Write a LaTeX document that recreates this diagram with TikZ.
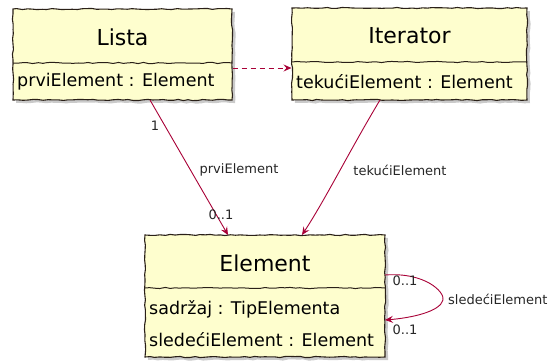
\documentclass[tikz,border=0pt]{standalone}
\usepackage{fontspec}
\setmainfont{DejaVu Sans}
\usetikzlibrary{arrows.meta,decorations.pathmorphing,shadows,calc}
\definecolor{clsfill}{HTML}{FEFECE}
\definecolor{clsline}{HTML}{2A2018}
\definecolor{assoc}{HTML}{A80036}
\tikzset{
  sketch/.style={decorate,decoration={random steps,segment length=5pt,amplitude=0.6pt}},
  classbox/.style={draw=clsline,line width=1.1pt,fill=clsfill,sketch,
    drop shadow={shadow xshift=3pt,shadow yshift=-3pt,opacity=0.35,fill=black!60},
    inner sep=0pt},
  divider/.style={draw=clsline,line width=1pt,sketch},
  title/.style={font=\fontsize{22}{25}\selectfont,inner sep=0pt},
  attr/.style={font=\fontsize{17.5}{20}\selectfont,anchor=west,inner sep=0pt},
  rel/.style={draw=assoc,line width=0.9pt,-{Stealth[length=8pt,width=7pt,inset=3pt]}},
  lbl/.style={font=\fontsize{13}{15}\selectfont,inner sep=0pt,text=black!85},
}
\begin{document}
\begin{tikzpicture}[x=1pt,y=-1pt]
\pgfmathsetseed{7}
\useasboundingbox (0,0) rectangle (550,362);

% class Lista
\node[classbox,minimum width=219pt,minimum height=91pt] (lista) at (122.5,54.5) {};
\draw[divider] (13,63) -- (232,63);
\node[title] (listaT) at (122.5,37) {Lista};
\node[attr] (listaA) at (17,82) {prviElement : Element};

% class Iterator
\node[classbox,minimum width=235pt,minimum height=92pt] (iter) at (409.5,54) {};
\draw[divider] (292,62) -- (527,62);
\node[title] (iterT) at (409.5,36) {Iterator};
\node[attr] (iterA) at (296,82) {tekućiElement : Element};

% class Element
\node[classbox,minimum width=240pt,minimum height=122pt] (elem) at (265,296) {};
\draw[divider] (145,288) -- (385,288);
\node[title] (elemT) at (265,263) {Element};
\node[attr] (elemA1) at (149,309) {sadržaj : TipElementa};
\node[attr] (elemA2) at (149,340) {sledećiElement : Element};

% dependency Lista -> Iterator
\draw[rel,dashed,dash pattern=on 5pt off 4pt] (lista.east |- 0,68) -- (iter.west |- 0,68);

% association Lista -> Element
\coordinate (pA) at (150,100);
\coordinate (pB) at (228,235);
\draw[rel] (pA) -- (pB);
\node[lbl] (m1) at (155,126) {1};
\node[lbl] (n1) at (239,170) {prviElement};
\node[lbl] (m2) at (221,215) {0..1};

% association Iterator -> Element
\coordinate (qA) at (380,100);
\coordinate (qB) at (302,235);
\draw[rel] (qA) .. controls (350,150) and (325,200) .. (qB);
\node[lbl] (n2) at (400,170) {tekućiElement};

% self association on Element
\coordinate (sA) at (385,275);
\coordinate (sB) at (385,320);
\draw[rel] (sA) .. controls (425,272) and (445,292) .. (443,300)
  .. controls (440,312) and (410,318) .. (sB);
\node[lbl] (m3) at (405,281) {0..1};
\node[lbl] (m4) at (405,330) {0..1};
\node[lbl,anchor=west] (n3) at (448,299) {sledećiElement};
\end{tikzpicture}
\end{document}
